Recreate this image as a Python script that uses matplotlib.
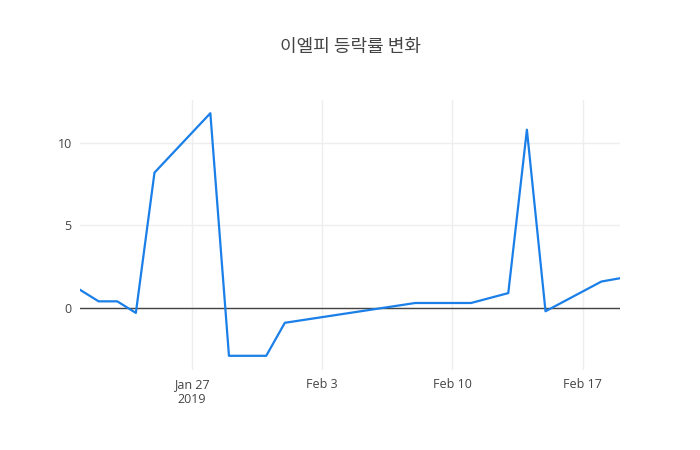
import numpy as np
import pandas as pd
import matplotlib
matplotlib.use('Agg')
import matplotlib.pyplot as plt

plt.rcParams['font.family'] = ['Open Sans', 'Noto Sans CJK KR', 'DejaVu Sans']

# 이엘피 일별 등락률 (%)
dates = ['2019-01-21', '2019-01-22', '2019-01-23', '2019-01-24', '2019-01-25',
         '2019-01-28', '2019-01-29', '2019-01-30', '2019-01-31', '2019-02-01',
         '2019-02-08', '2019-02-11', '2019-02-13', '2019-02-14', '2019-02-15',
         '2019-02-18', '2019-02-19']
rates = [1.1, 0.4, 0.4, -0.3, 8.2,
         11.8, -2.9, -2.9, -2.9, -0.9,
         0.3, 0.3, 0.9, 10.8, -0.2,
         1.6, 1.8]
tick_dates = ['2019-01-27', '2019-02-03', '2019-02-10', '2019-02-17']
tick_labels = ['Jan 27\n2019', 'Feb 3', 'Feb 10', 'Feb 17']
y_ticks = [0, 5, 10]

x = pd.to_datetime(dates)

fig = plt.figure(figsize=(7, 4.5), dpi=100)
ax = fig.add_axes([80/700, 80/450, 540/700, 270/450])

ax.plot(x, rates, color='#1a7fe8', linewidth=1.6, zorder=3)
ax.axhline(0, color='#444444', linewidth=1, zorder=2)

ax.set_xlim(x[0], x[-1])
ax.set_ylim(-3.76, 12.6)
ax.set_xticks(pd.to_datetime(tick_dates))
ax.set_xticklabels(tick_labels)
ax.set_yticks(y_ticks)
ax.grid(True, color='#eeeeee', linewidth=1, zorder=0)
for s in ax.spines.values():
    s.set_visible(False)
ax.tick_params(length=0, colors='#444444', labelsize=9, pad=6)

fig.suptitle('이엘피 등락률 변화', y=0.915, fontsize=13, color='#444444',
             family=['Noto Sans CJK KR', 'DejaVu Sans'])

fig.savefig('out.png', dpi=100)
